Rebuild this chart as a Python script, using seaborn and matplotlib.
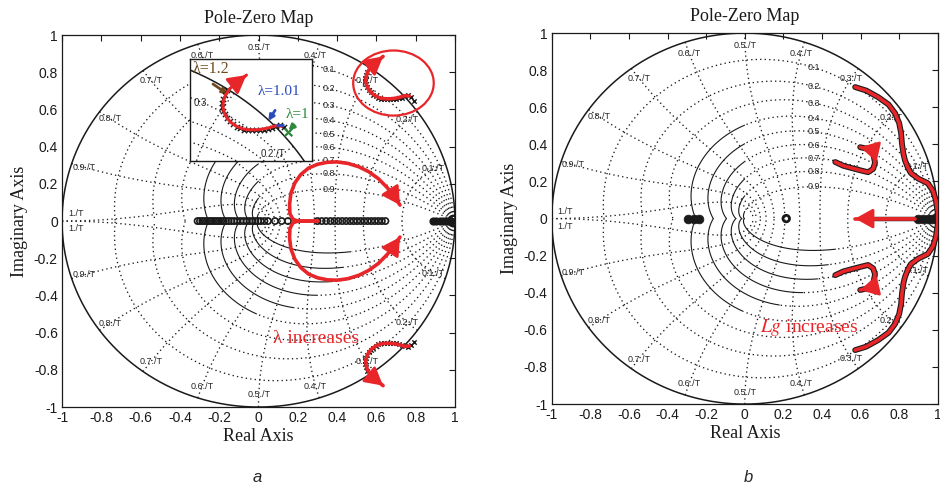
import numpy as np
import matplotlib
matplotlib.use("Agg")
import matplotlib.pyplot as plt
from matplotlib.patches import Ellipse
import seaborn as sns

sns.set_theme(style="white")
plt.rcParams["font.family"] = ["Liberation Sans", "DejaVu Sans"]
plt.rcParams["axes.unicode_minus"] = False
plt.rcParams["mathtext.fontset"] = "stix"

RED = "#e8262a"
SERIF = ["Liberation Serif", "DejaVu Serif"]

# ---------------- ticks / grid values ----------------
tick_vals = [-1, -0.8, -0.6, -0.4, -0.2, 0, 0.2, 0.4, 0.6, 0.8, 1]
tick_labels = ["-1", "-0.8", "-0.6", "-0.4", "-0.2", "0", "0.2", "0.4", "0.6", "0.8", "1"]
zeta_vals = [0.1, 0.2, 0.3, 0.4, 0.5, 0.6, 0.7, 0.8, 0.9]
zeta_labels = ["0.1", "0.2", "0.3", "0.4", "0.5", "0.6", "0.7", "0.8", "0.9"]
wn_vals = [0.1, 0.2, 0.3, 0.4, 0.5, 0.6, 0.7, 0.8, 0.9, 1.0]
wn_labels = ["0.1./T", "0.2./T", "0.3./T", "0.4./T", "0.5./T",
             "0.6./T", "0.7./T", "0.8./T", "0.9./T", "1./T"]

# ---------------- panel a data ----------------
# real-axis poles as lambda varies
poles_a_re = [-0.310, -0.298, -0.286, -0.274, -0.262, -0.250, -0.238, -0.226, -0.214,
              -0.202, -0.190, -0.178, -0.166, -0.152, -0.138, -0.124, -0.108, -0.092,
              -0.076, -0.060, -0.045, -0.030, -0.016, -0.002, 0.012, 0.030, 0.048,
              0.084, 0.118, 0.150, 0.300, 0.322, 0.344, 0.366, 0.386, 0.406, 0.426,
              0.446, 0.466, 0.484, 0.502, 0.520, 0.538, 0.556, 0.574, 0.592, 0.610,
              0.628, 0.646]
poles_a_right = [0.890, 0.905, 0.922, 0.940, 0.955, 0.968, 0.978]
pole_a_big = [0.993]
# upper complex pole track (circled branch)
br_re = [0.790, 0.776, 0.761, 0.745, 0.730, 0.715, 0.700, 0.685, 0.670, 0.655, 0.640,
         0.625, 0.610, 0.597, 0.585, 0.573, 0.562, 0.553, 0.546, 0.542, 0.543, 0.547,
         0.553, 0.560]
br_im = [0.648, 0.668, 0.676, 0.672, 0.664, 0.660, 0.658, 0.656, 0.655, 0.655, 0.656,
         0.658, 0.663, 0.670, 0.680, 0.692, 0.706, 0.721, 0.737, 0.753, 0.770, 0.787,
         0.804, 0.821]
# red trend arrow over that branch
brr_re = [0.768, 0.745, 0.720, 0.695, 0.670, 0.645, 0.620, 0.598, 0.578, 0.562, 0.551,
          0.546, 0.548, 0.556, 0.570, 0.590, 0.612, 0.634]
brr_im = [0.672, 0.674, 0.666, 0.660, 0.657, 0.657, 0.661, 0.671, 0.686, 0.705, 0.728,
          0.753, 0.778, 0.802, 0.826, 0.848, 0.866, 0.885]
# red trend of the dominant branch (breaks away from real axis)
mid_re = [0.300, 0.250, 0.200, 0.175, 0.160, 0.158, 0.165, 0.185, 0.215, 0.255, 0.300,
          0.350, 0.400, 0.455, 0.510, 0.560, 0.610, 0.655, 0.690, 0.720]
mid_im = [0.000, 0.000, 0.000, 0.010, 0.040, 0.090, 0.150, 0.205, 0.250, 0.285, 0.305,
          0.316, 0.318, 0.310, 0.292, 0.266, 0.228, 0.180, 0.135, 0.086]
circ_center = (0.687, 0.742)
circ_size = (0.41, 0.35)

# ---------------- panel b data ----------------
poles_b_left = [-0.292, -0.262, -0.235]
zero_b = [0.215]
track_b_re = [0.600, 0.625, 0.650, 0.675, 0.700, 0.725, 0.750, 0.775, 0.800, 0.825,
              0.850, 0.870, 0.890]
poles_b_right = [0.900, 0.925, 0.950, 0.972, 0.990]
arr_b_re = [0.880, 0.572]
s_re = [0.572, 0.630, 0.691, 0.745, 0.778, 0.800, 0.810, 0.815, 0.822, 0.830, 0.845,
        0.861, 0.900, 0.948, 0.975, 0.990, 1.000]
s_im = [0.709, 0.690, 0.655, 0.615, 0.569, 0.515, 0.461, 0.400, 0.350, 0.315, 0.275,
        0.245, 0.215, 0.191, 0.150, 0.100, 0.030]
hook_re = [0.469, 0.510, 0.552, 0.600, 0.639, 0.665, 0.675, 0.665, 0.640, 0.598]
hook_im = [0.305, 0.285, 0.273, 0.260, 0.250, 0.268, 0.300, 0.353, 0.375, 0.385]

DOTS = (0, (1, 2.4))


def draw_grid(ax, labels=True):
    t = np.linspace(0, 2 * np.pi, 721)
    ax.plot(np.cos(t), np.sin(t), color="k", lw=1.1, zorder=2)
    th = np.linspace(0, np.pi, 700)
    for z, lab in zip(zeta_vals, zeta_labels):
        r = np.exp(-z * th / np.sqrt(1 - z * z))
        x = r * np.cos(th)
        y = r * np.sin(th)
        for s in (1, -1):
            if z > 0.35:
                solid = (th >= np.pi / 2) if s == 1 else (r <= 0.5)
            else:
                solid = np.zeros_like(th, dtype=bool)
            ax.plot(np.where(solid, np.nan, x), np.where(solid, np.nan, s * y),
                    color="k", lw=0.95, ls=DOTS, zorder=1)
            ax.plot(np.where(solid, x, np.nan), np.where(solid, s * y, np.nan),
                    color="k", lw=0.8, ls="-", zorder=1)
        if labels:
            sel = th < np.pi / 2
            i = np.argmin(np.abs(x[sel] - 0.36))
            ax.text(0.36, y[sel][i], lab, fontsize=6.5, ha="center", va="center",
                    zorder=3)
    zz = np.linspace(0, 1, 400)
    for w, lab in zip(wn_vals, wn_labels):
        a = w * np.pi
        r = np.exp(-zz * a)
        ang = a * np.sqrt(1 - zz ** 2)
        x = r * np.cos(ang)
        y = r * np.sin(ang)
        for s in (1, -1):
            ax.plot(x, s * y, color="k", lw=0.95, ls=DOTS, zorder=1)
        if labels:
            zl = 0.067 / a
            ang_l = a * np.sqrt(1 - zl ** 2)
            lx, ly = 0.935 * np.cos(ang_l), 0.935 * np.sin(ang_l)
            if w == 1.0:
                lx, ly = -0.93, 0.04
            for s in (1, -1):
                ax.text(lx, s * ly, lab, fontsize=6.5, ha="center", va="center",
                        zorder=3)


def style_axes(ax):
    ax.set_xlim(-1, 1)
    ax.set_ylim(-1, 1)
    ax.set_xticks(tick_vals)
    ax.set_xticklabels(tick_labels)
    ax.set_yticks(tick_vals)
    ax.set_yticklabels(tick_labels)
    ax.tick_params(direction="in", top=True, right=True, length=4, width=0.8,
                   labelsize=10, colors="k", pad=3)
    for sp in ax.spines.values():
        sp.set_color("k")
        sp.set_linewidth(0.9)
    ax.set_title("Pole-Zero Map", fontfamily=SERIF, fontsize=13, pad=9, color="k")
    ax.set_xlabel("Real Axis", fontfamily=SERIF, fontsize=13, labelpad=2, color="k")
    ax.set_ylabel("Imaginary Axis", fontfamily=SERIF, fontsize=13, labelpad=4,
                  color="k")


def red_path(ax, xs, ys, arrow=True, lw=2.6, under=False):
    if under:
        sns.lineplot(x=xs, y=ys, sort=False, estimator=None, color="k", lw=lw + 1.6,
                     ax=ax, zorder=5)
    sns.lineplot(x=xs, y=ys, sort=False, estimator=None, color=RED, lw=lw, ax=ax,
                 zorder=6)
    if arrow:
        ax.annotate("", xy=(xs[-1], ys[-1]), xytext=(xs[-2], ys[-2]),
                    arrowprops=dict(arrowstyle="-|>,head_length=0.9,head_width=0.5",
                                    color=RED, lw=2.0, shrinkA=0, shrinkB=0,
                                    mutation_scale=12),
                    zorder=7)


fig = plt.figure(figsize=(9.4, 4.91), dpi=100)
axa = fig.add_axes([0.066, 0.171, 0.418, 0.7576])
axb = fig.add_axes([0.587, 0.177, 0.4106, 0.7556])

# ======================= panel a =======================
draw_grid(axa)
zeros_a = [0.0] * len(poles_a_re)
sns.scatterplot(x=poles_a_re, y=zeros_a, ax=axa, marker="o", s=20, color="k",
                facecolor="none", edgecolor="k", linewidth=1.2, zorder=4)
sns.scatterplot(x=poles_a_right, y=[0.0] * len(poles_a_right), ax=axa, marker="o",
                s=24, color="k", edgecolor="k", linewidth=1.0, zorder=4)
sns.scatterplot(x=pole_a_big, y=[0.0], ax=axa, marker="o", s=60, color="k",
                facecolor="none", edgecolor="k", linewidth=1.6, zorder=4)
br_im_neg = [-v for v in br_im]
for yy in (br_im, br_im_neg):
    sns.scatterplot(x=br_re, y=yy, ax=axa, marker="x", s=10, color="k",
                    linewidth=1.0, zorder=4)
red_path(axa, brr_re, brr_im)
red_path(axa, brr_re, [-v for v in brr_im])
red_path(axa, mid_re, mid_im)
red_path(axa, mid_re, [-v for v in mid_im])
axa.add_patch(Ellipse(circ_center, circ_size[0], circ_size[1], fill=False,
                      ec=RED, lw=1.6, zorder=6))
axa.text(0.075, -0.63, "λ increases", color=RED, fontfamily=SERIF, fontsize=14,
         ha="left", va="center", zorder=8)
style_axes(axa)

# inset
axi = fig.add_axes([0.2021, 0.6721, 0.1298, 0.2077])
draw_grid(axi, labels=False)
sns.scatterplot(x=br_re, y=br_im, ax=axi, marker="x", s=14, color="k",
                linewidth=1.0, zorder=4)
red_path(axi, brr_re, brr_im, lw=2.2)
sns.scatterplot(x=br_re[:1], y=br_im[:1], ax=axi, marker="x", s=30,
                color="#2e8b3e", linewidth=1.6, zorder=8)
sns.scatterplot(x=br_re[2:3], y=br_im[2:3], ax=axi, marker="_", s=40,
                color="#2b4bbd", linewidth=2.0, zorder=8)
axi.set_xlim(0.423, 0.879)
axi.set_ylim(0.527, 0.952)
axi.set_xticks([])
axi.set_yticks([])
for sp in axi.spines.values():
    sp.set_color("k")
    sp.set_linewidth(1.0)
axi.set_facecolor("white")
axi.text(0.02, 0.90, "λ=1.2", transform=axi.transAxes, color="#6e4a1e",
         fontfamily=SERIF, fontsize=11.5, ha="left", va="center")
axi.annotate("", xy=(0.33, 0.64), xytext=(0.17, 0.77), xycoords="axes fraction",
             arrowprops=dict(arrowstyle="-|>", color="#6e4a1e", lw=2.0,
                             mutation_scale=8))
axi.text(0.73, 0.68, "λ=1.01", transform=axi.transAxes, color="#2b4bbd",
         fontfamily=SERIF, fontsize=11, ha="center", va="center")
axi.annotate("", xy=(0.63, 0.37), xytext=(0.71, 0.52), xycoords="axes fraction",
             arrowprops=dict(arrowstyle="-|>", color="#2b4bbd", lw=2.0,
                             mutation_scale=8))
axi.text(0.88, 0.46, "λ=1", transform=axi.transAxes, color="#2e8b3e",
         fontfamily=SERIF, fontsize=11, ha="center", va="center")
axi.annotate("", xy=(0.79, 0.28), xytext=(0.87, 0.37), xycoords="axes fraction",
             arrowprops=dict(arrowstyle="-|>", color="#2e8b3e", lw=2.0,
                             mutation_scale=8))
axi.text(0.03, 0.57, "0.3", transform=axi.transAxes, fontsize=7, ha="left",
         va="center")
axi.text(0.68, 0.07, "0.2./T", transform=axi.transAxes, fontsize=7, ha="center",
         va="center")

# ======================= panel b =======================
draw_grid(axb)
sns.scatterplot(x=poles_b_left, y=[0.0] * 3, ax=axb, marker="o", s=40, color="k",
                edgecolor="k", zorder=4)
sns.scatterplot(x=zero_b, y=[0.0], ax=axb, marker="o", s=22, color="k",
                facecolor="none", edgecolor="k", linewidth=2.0, zorder=4)
sns.lineplot(x=track_b_re, y=[0.0] * len(track_b_re), sort=False, estimator=None,
             color="k", lw=3.2, ax=axb, zorder=4)
sns.scatterplot(x=poles_b_right, y=[0.0] * len(poles_b_right), ax=axb, marker="o",
                s=40, color="k", edgecolor="k", zorder=4)
red_path(axb, arr_b_re, [0.0, 0.0])
s_path_re = s_re + s_re[::-1]
s_path_im = s_im + [-v for v in s_im[::-1]]
red_path(axb, s_path_re, s_path_im, arrow=False, under=True)
red_path(axb, hook_re, hook_im, under=True)
red_path(axb, hook_re, [-v for v in hook_im], under=True)
axb.text(0.08, -0.585, r"$\mathit{Lg}$ increases", color=RED, fontfamily=SERIF,
         fontsize=14, ha="left", va="center", zorder=8)
style_axes(axb)

fig.text(257 / 940, 1 - 477 / 491, "a", fontsize=12, style="italic",
         ha="center", va="center")
fig.text(748 / 940, 1 - 477 / 491, "b", fontsize=12, style="italic",
         ha="center", va="center")

fig.savefig("out.png", dpi=100, facecolor="white")
